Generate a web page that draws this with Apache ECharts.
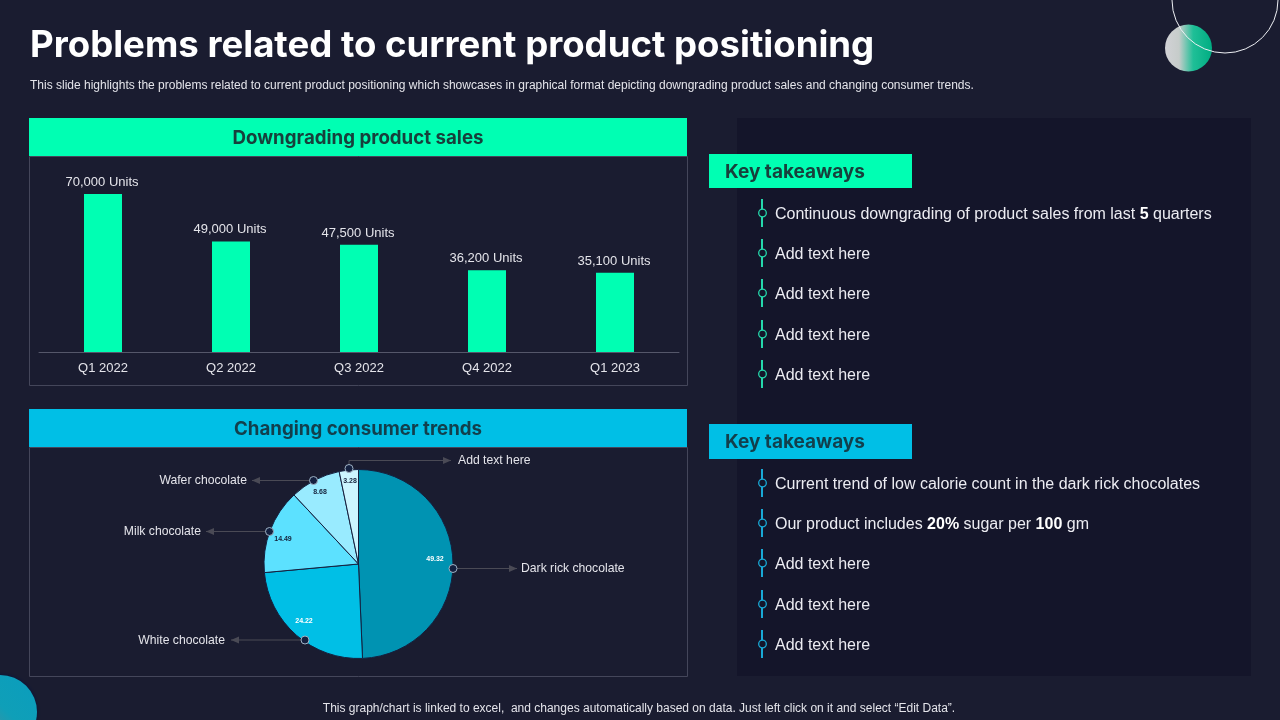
<!DOCTYPE html>
<html><head><meta charset="utf-8">
<style>html,body{margin:0;padding:0;background:#1a1c30}#c{width:1280px;height:720px}</style>
<script src="https://cdn.jsdelivr.net/npm/echarts@6/dist/echarts.min.js"></script>
</head><body><div id="c"></div>
<script>
const titleText = 'Problems related to current product positioning';
const subtitleText = 'This slide highlights the problems related to current product positioning which showcases in graphical format depicting downgrading product sales and changing consumer trends.';
const footerText = 'This graph/chart is linked to excel,  and changes automatically based on data. Just left click on it and select “Edit Data”.';
const quarters = ['Q1 2022','Q2 2022','Q3 2022','Q4 2022','Q1 2023'];
const units = [70000,49000,47500,36200,35100];
const chocolates = ['Dark rick chocolate','White chocolate','Milk chocolate','Wafer chocolate','Add text here'];
const shares = [49.32,24.22,14.49,8.68,3.28];
const sliceColors = ['#0093b2','#00bfe6','#5ce1ff','#99ebff','#ccf5ff'];
const shareLabelColors = ['#ffffff','#ffffff','#14203a','#14203a','#14203a'];
const shareLabelPos = [[435,559],[304,621],[283,539],[320,492],[350,481]];
const topTakeaways = [[['Continuous downgrading of product sales from last '],['5',1],[' quarters']],[['Add text here']],[['Add text here']],[['Add text here']],[['Add text here']]];
const bottomTakeaways = [[['Current trend of low calorie count in the dark rick chocolates']],[['Our product includes '],['20%',1],[' sugar per '],['100',1],[' gm']],[['Add text here']],[['Add text here']],[['Add text here']]];
const topRows = [213,253,293,334,374];
const bottomRows = [483,523,563,604,644];

const SANS = '"Liberation Sans",Arial,sans-serif', HEAD = 'Inter,Lato,sans-serif';
const g = [];
const rect = (x,y,w,h,fill,stroke) => g.push({type:'rect',z:0,silent:true,shape:{x,y,width:w,height:h},style:{fill:fill||'transparent',stroke:stroke||null,lineWidth:1}});
const text = (x,y,t,size,fill,o) => g.push({type:'text',z:5,silent:true,x,y,style:Object.assign({text:t,fontSize:size,fill,fontFamily:SANS,verticalAlign:'middle',align:'left'},o||{})});

// decorations
g.push({type:'circle',z:1,silent:true,shape:{cx:0,cy:712,r:37},style:{fill:{type:'linear',x:0,y:1,x2:1,y2:0,colorStops:[{offset:0,color:'#777f88'},{offset:.55,color:'#0f9fb8'},{offset:1,color:'#0a9dbd'}]},shadowColor:'#06123a',shadowBlur:4}});
g.push({type:'circle',z:1,silent:true,shape:{cx:1188.5,cy:48,r:23.5},style:{fill:{type:'linear',x:0,y:0,x2:1,y2:0,colorStops:[{offset:0,color:'#d2d2d6'},{offset:.3,color:'#c6ccca'},{offset:.6,color:'#1fbf97'},{offset:1,color:'#00ad82'}]}}});
g.push({type:'circle',z:2,silent:true,shape:{cx:1225,cy:0,r:53},style:{fill:'transparent',stroke:'#eef0f4',lineWidth:1}});

// panels
rect(737,118,514,558,'#14152a');
rect(29.5,156.5,658,229,null,'#44465a');
rect(29.5,447.5,658,229,null,'#44465a');
rect(29,118,658,38,'#00ffb3');
rect(29,409,658,38,'#00bfe6');
rect(709,154,203,34,'#00ffb3');
rect(709,424,203,35,'#00bfe6');

// headings
text(30,46,titleText,36.6,'#ffffff',{fontFamily:HEAD,fontWeight:700});
text(30,86,subtitleText,12,'#e4e4ea');
text(358,138,'Downgrading product sales',18.7,'#17403c',{fontFamily:HEAD,fontWeight:700,align:'center'});
text(358,429,'Changing consumer trends',18.7,'#123f4c',{fontFamily:HEAD,fontWeight:700,align:'center'});
text(725,172,'Key takeaways',19,'#17403c',{fontFamily:HEAD,fontWeight:700});
text(725,442,'Key takeaways',19,'#123f4c',{fontFamily:HEAD,fontWeight:700});
text(639,709,footerText,12,'#e4e4ea',{align:'center'});

// takeaway lists
function list(items,rows,color){
  items.forEach((parts,i)=>{
    const y = rows[i];
    g.push({type:'line',z:3,silent:true,shape:{x1:762,y1:y-14,x2:762,y2:y+14},style:{stroke:color,lineWidth:2}});
    g.push({type:'circle',z:4,silent:true,shape:{cx:762.5,cy:y,r:3.8},style:{fill:'#14152a',stroke:color,lineWidth:1.3}});
    const s = parts.map(p=>p[1]?'{b|'+p[0]+'}':'{n|'+p[0]+'}').join('');
    text(775,y+1.5,s,16,'#ececf2',{rich:{n:{fontSize:16,fill:'#ececf2',fontFamily:SANS},b:{fontSize:16,fontWeight:700,fill:'#ffffff',fontFamily:SANS}}});
  });
}
list(topTakeaways,topRows,'#25d8ac');
list(bottomTakeaways,bottomRows,'#19a9d6');

// pie callouts: [dotX, dotY, arrowTipX, labelX, align]
const calloutGeom = [[453,568.5,517,521,'left'],[305,640,231,225,'right'],[269.5,531.5,206,201,'right'],[313.5,480.5,252,247,'right'],[349,468.5,451,458,'left']];
const LINE='#4a4a55';
chocolates.forEach((name,i)=>{
  const [dx,dy,tip,lx,al]=calloutGeom[i];
  let y=dy, sx=dx;
  if(i===4){ y=460.5; g.push({type:'line',z:8,silent:true,shape:{x1:dx,y1:dy,x2:dx,y2:y},style:{stroke:LINE,lineWidth:1}}); }
  const dir = tip>dx?1:-1;
  g.push({type:'line',z:8,silent:true,shape:{x1:sx,y1:y,x2:tip,y2:y},style:{stroke:LINE,lineWidth:1}});
  g.push({type:'polygon',z:8,silent:true,shape:{points:[[tip,y],[tip-dir*8,y-3.5],[tip-dir*8,y+3.5]]},style:{fill:LINE}});
  g.push({type:'circle',z:9,silent:true,shape:{cx:dx,cy:dy,r:4},style:{fill:'#14203f',stroke:'#9fb2c4',lineWidth:1}});
  text(lx,y+0.5,name,12.2,'#e4e4ea',{align:al});
});

const chart = echarts.init(document.getElementById('c'));
chart.setOption({
  animation:false,
  backgroundColor:'#1a1c30',
  textStyle:{fontFamily:SANS},
  grid:{left:39,top:194,width:640,height:158},
  xAxis:{type:'category',data:quarters,axisTick:{show:false},axisLine:{lineStyle:{color:'#55576a'}},axisLabel:{color:'#e4e4ea',fontSize:13,margin:10,fontFamily:SANS}},
  yAxis:{type:'value',min:0,max:70000,show:false,splitLine:{show:false}},
  graphic:{elements:g},
  series:[
    {type:'bar',data:units,barWidth:38,itemStyle:{color:'#00ffb3'},
     label:{show:true,position:'top',distance:5,color:'#e4e4ea',fontSize:13,fontFamily:SANS,offset:[-1,0],
       formatter:p=>p.value.toLocaleString('en-US')+' Units'}},
    {type:'pie',center:[358.5,564],radius:[0,94.5],startAngle:90,clockwise:true,
     data:shares.map((v,i)=>({value:v,name:chocolates[i],itemStyle:{color:sliceColors[i]},label:{color:shareLabelColors[i]}})),
     itemStyle:{borderColor:'#14203f',borderWidth:1},
     label:{show:true,position:'inside',fontSize:7,fontWeight:700,fontFamily:SANS,formatter:p=>p.value.toFixed(2)},
     labelLine:{show:false},
     labelLayout:p=>({x:shareLabelPos[p.dataIndex][0],y:shareLabelPos[p.dataIndex][1],align:'center',verticalAlign:'middle'})}
  ]
});
</script></body></html>
